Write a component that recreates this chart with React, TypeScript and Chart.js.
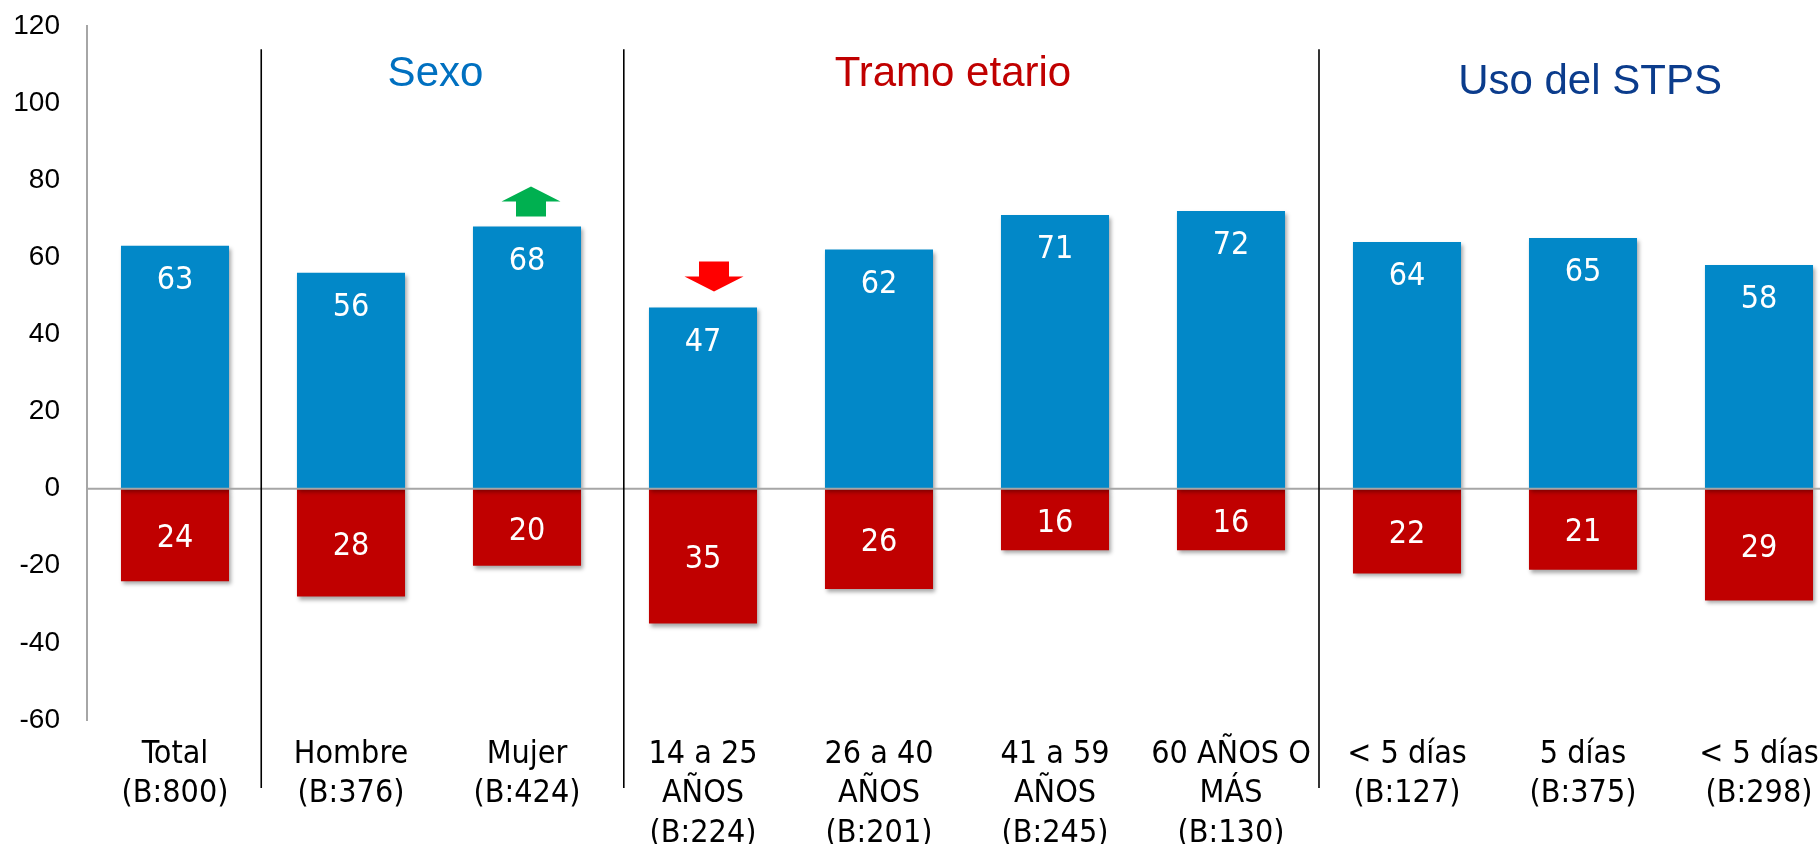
import React, { useEffect, useRef } from "react";
import { Chart, registerables } from "chart.js";

Chart.register(...registerables);

const categories: string[][] = [
  ["Total", "(B:800)"],
  ["Hombre", "(B:376)"],
  ["Mujer", "(B:424)"],
  ["14 a 25", "AÑOS", "(B:224)"],
  ["26 a 40", "AÑOS", "(B:201)"],
  ["41 a 59", "AÑOS", "(B:245)"],
  ["60 AÑOS O", "MÁS", "(B:130)"],
  ["< 5 días", "(B:127)"],
  ["5 días", "(B:375)"],
  ["< 5 días", "(B:298)"],
];

const positiveValues: number[] = [63, 56, 68, 47, 62, 71, 72, 64, 65, 58];
const negativeValues: number[] = [-24, -28, -20, -35, -26, -16, -16, -22, -21, -29];

const yTicks: number[] = [-60, -40, -20, 0, 20, 40, 60, 80, 100, 120];

// group headers
const groupTitles: string[] = ["Sexo", "Tramo etario", "Uso del STPS"];
const groupCenterIndex: number[] = [1.48, 4.42, 8.04];
const groupColors: string[] = ["#0070C0", "#C00000", "#0B3C8C"];
const groupTitleValue: number[] = [107.5, 107.5, 105.3];

// separators between groups (fractional category positions)
const separatorPositions: number[] = [0.49, 2.55, 6.5];

// significance arrows
const arrowUpIndex: number[] = [2];
const arrowDownIndex: number[] = [3];

const BLUE = "#0288C8";
const RED = "#C00000";

const overlayPlugin = {
  id: "overlay",
  beforeDatasetsDraw(chart: any) {
    const ctx = chart.ctx;
    ctx.save();
    ctx.shadowColor = "rgba(0,0,0,0.35)";
    ctx.shadowBlur = 4;
    ctx.shadowOffsetX = 2;
    ctx.shadowOffsetY = 3;
  },
  afterDatasetsDraw(chart: any) {
    const ctx = chart.ctx;
    ctx.restore();
    const xs = chart.scales.x;
    const ys = chart.scales.y;
    const area = chart.chartArea;

    // zero line
    const y0 = ys.getPixelForValue(0);
    ctx.save();
    ctx.strokeStyle = "#A6A6A6";
    ctx.lineWidth = 2;
    ctx.beginPath();
    ctx.moveTo(area.left, y0);
    ctx.lineTo(chart.width, y0);
    ctx.stroke();

    // separators
    ctx.strokeStyle = "#000000";
    ctx.lineWidth = 1.6;
    const sepTop = ys.getPixelForValue(114);
    const sepBottom = area.bottom + 68;
    separatorPositions.forEach((p) => {
      const x = xs.getPixelForValue(p);
      ctx.beginPath();
      ctx.moveTo(x, sepTop);
      ctx.lineTo(x, sepBottom);
      ctx.stroke();
    });

    // group titles
    ctx.font = "42px 'Liberation Sans', Arial, sans-serif";
    ctx.textAlign = "center";
    ctx.textBaseline = "middle";
    groupTitles.forEach((t, k) => {
      const x = xs.getPixelForValue(groupCenterIndex[k]);
      ctx.fillStyle = groupColors[k];
      ctx.fillText(t, x, ys.getPixelForValue(groupTitleValue[k]));
    });

    // data labels
    ctx.fillStyle = "#FFFFFF";
    ctx.font = "32px 'DejaVu Sans Condensed', 'DejaVu Sans', sans-serif";
    const posMeta = chart.getDatasetMeta(0);
    posMeta.data.forEach((bar: any, i: number) => {
      ctx.fillText(String(positiveValues[i]), bar.x, bar.y + 35);
    });
    const negMeta = chart.getDatasetMeta(1);
    negMeta.data.forEach((bar: any, i: number) => {
      ctx.fillText(String(Math.abs(negativeValues[i])), bar.x, (bar.y + bar.base) / 2 + 4);
    });

    // arrows
    const drawArrow = (cx: number, tipY: number, up: boolean, color: string) => {
      const headW = 59;
      const shaftW = 30;
      const headH = 15;
      const shaftH = 15;
      ctx.fillStyle = color;
      ctx.beginPath();
      if (up) {
        const top = tipY;
        ctx.moveTo(cx, top);
        ctx.lineTo(cx + headW / 2, top + headH);
        ctx.lineTo(cx + shaftW / 2, top + headH);
        ctx.lineTo(cx + shaftW / 2, top + headH + shaftH);
        ctx.lineTo(cx - shaftW / 2, top + headH + shaftH);
        ctx.lineTo(cx - shaftW / 2, top + headH);
        ctx.lineTo(cx - headW / 2, top + headH);
      } else {
        const tip = tipY;
        ctx.moveTo(cx, tip);
        ctx.lineTo(cx + headW / 2, tip - headH);
        ctx.lineTo(cx + shaftW / 2, tip - headH);
        ctx.lineTo(cx + shaftW / 2, tip - headH - shaftH);
        ctx.lineTo(cx - shaftW / 2, tip - headH - shaftH);
        ctx.lineTo(cx - shaftW / 2, tip - headH);
        ctx.lineTo(cx - headW / 2, tip - headH);
      }
      ctx.closePath();
      ctx.fill();
    };
    arrowUpIndex.forEach((i) => {
      const bar = posMeta.data[i];
      drawArrow(bar.x + 4, bar.y - 40, true, "#00B050");
    });
    arrowDownIndex.forEach((i) => {
      const bar = posMeta.data[i];
      drawArrow(bar.x + 11, bar.y - 16, false, "#FF0000");
    });
    ctx.restore();
  },
};

export default function App() {
  const canvasRef = useRef<HTMLCanvasElement | null>(null);

  useEffect(() => {
    const canvas = canvasRef.current;
    if (!canvas) return;
    const chart = new Chart(canvas, {
      type: "bar",
      data: {
        labels: categories,
        datasets: [
          { data: positiveValues, backgroundColor: BLUE },
          { data: negativeValues, backgroundColor: RED },
        ],
      },
      options: {
        responsive: false,
        animation: false,
        devicePixelRatio: 1,
        layout: { padding: { top: 26, right: 3, left: 0, bottom: 0 } },
        datasets: { bar: { categoryPercentage: 1, barPercentage: 0.614 } },
        plugins: { legend: { display: false }, tooltip: { enabled: false } },
        scales: {
          x: {
            stacked: true,
            offset: true,
            grid: { display: false, drawTicks: false },
            border: { display: false },
            ticks: {
              color: "#000000",
              font: { family: "'DejaVu Sans Condensed', 'DejaVu Sans', sans-serif", size: 32, lineHeight: 1.23 },
              padding: 15,
              maxRotation: 0,
              autoSkip: false,
            },
            afterFit: (s: any) => {
              s.height = 124;
              s.paddingLeft = 0;
              s.paddingRight = 0;
            },
          },
          y: {
            stacked: true,
            min: -60,
            max: 120,
            afterBuildTicks: (s: any) => {
              s.ticks = yTicks.map((v) => ({ value: v }));
            },
            grid: { display: false, drawTicks: false },
            border: { display: true, color: "#A6A6A6", width: 2 },
            ticks: {
              color: "#000000",
              font: { family: "'Liberation Sans', Arial, sans-serif", size: 28 },
              padding: 27,
            },
            afterFit: (s: any) => {
              s.width = 87;
              s.paddingTop = 0;
              s.paddingBottom = 0;
            },
          },
        },
      },
      plugins: [overlayPlugin],
    } as any);
    return () => chart.destroy();
  }, []);

  return (
    <div
      style={{
        position: "fixed",
        left: 0,
        top: 0,
        width: 1820,
        height: 844,
        overflow: "hidden",
        background: "#FFFFFF",
      }}
    >
      <canvas ref={canvasRef} width={1850} height={844} style={{ width: 1850, height: 844, display: "block" }} />
    </div>
  );
}
